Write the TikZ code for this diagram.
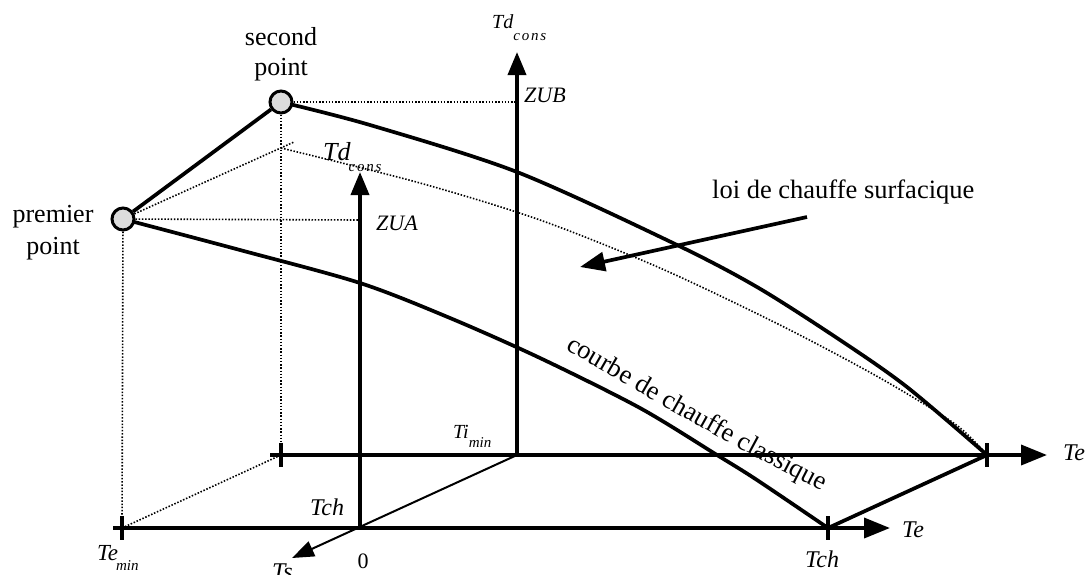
\documentclass[tikz,border=0pt]{standalone}
\usepackage{fontspec}
\setmainfont{Liberation Serif}
\usetikzlibrary{arrows.meta,decorations.text,backgrounds}
\newcommand\subtxt[1]{{\fontsize{15}{15}\selectfont\addfontfeature{LetterSpace=12}#1}}
\newcommand\subplain[1]{{\fontsize{15}{15}\selectfont#1}}
\begin{document}
\begin{tikzpicture}[x=1pt,y=-1pt,
  thickline/.style={line width=3.7pt},
  dotline/.style={line width=1.6pt, dash pattern=on 1.5pt off 1.7pt},
  bigarrow/.style={-{Triangle[length=26pt,width=20pt]}},
  vertarrow/.style={-{Triangle[length=23pt,width=18pt]}},
  ptnode/.style={circle, draw, line width=3pt, fill={rgb,255:red,220;green,220;blue,220}, minimum size=22pt, inner sep=0pt},
  lab/.style={inner sep=0pt, anchor=base west},
  txt/.style={inner sep=0pt, align=center, font=\fontsize{26}{30}\selectfont},
]
\useasboundingbox (0,0) rectangle (1092,574);

% key points
\node[ptnode] (P1) at (123,219) {};
\node[ptnode] (P2) at (281,102) {};
\coordinate (O) at (360,528);
\coordinate (Ob) at (517,455);
\coordinate (FA0) at (113,528);
\coordinate (FA1) at (890,528);
\coordinate (BA0) at (270,455);
\coordinate (BA1) at (1047,455);
\coordinate (Y1) at (360,172);
\coordinate (Y2) at (517,52);
\coordinate (TsE) at (292,558);
\coordinate (Tm) at (122,528);
\coordinate (Bt) at (281,455);
\coordinate (Tc) at (828,528);
\coordinate (Be) at (987,455);
\coordinate (ZA) at (360,220);
\coordinate (ZB) at (517,102);
\coordinate (Dq) at (281,148);
\coordinate (Dp) at (294,142);
\coordinate (La) at (807,217);
\coordinate (Lb) at (580,267);
\coordinate (cs) at (565,349);
\coordinate (ce) at (835,498);

\begin{pgfonlayer}{background}
% dotted construction lines
\draw[dotline] (P1) -- (Dp);
\draw[dotline] (P1) -- (ZA);
\draw[dotline] (P2) -- (ZB);
\draw[dotline] (P1) -- (Tm);
\draw[dotline] (P2) -- (Bt);
\draw[dotline] (Tm) -- (Bt);
\draw[dotline] plot[smooth] coordinates {(Dq) (420,183) (540,220) (660,268) (780,325) (880,378) (955,424) (Be)};
% axes
\draw[thickline, bigarrow] (FA0) -- (FA1);
\draw[thickline, bigarrow] (BA0) -- (BA1);
\draw[thickline, vertarrow] (O) -- (Y1);
\draw[thickline, vertarrow] (Ob) -- (Y2);
\draw[line width=2pt, -{Triangle[length=22pt,width=16pt]}] (Ob) -- (TsE);
% ticks
\draw[thickline] (Tm) ++(0,-12) -- ++(0,24);
\draw[thickline] (Bt) ++(0,-12) -- ++(0,24);
\draw[thickline] (Tc) ++(0,-12) -- ++(0,24);
\draw[thickline] (Be) ++(0,-12) -- ++(0,24);
% curves
\draw[thickline] (P1) -- (P2);
\draw[thickline] plot[smooth] coordinates {(P2) (370,125) (517,172) (673,243) (757,287) (840,340) (907,387) (Be)};
\draw[thickline] plot[smooth] coordinates {(P1) (240,250) (360,283) (450,318) (540,358) (640,408) (717,455) (757,480) (Tc)};
\draw[thickline] (Tc) -- (Be);
\draw[thickline, -{Triangle[length=25pt,width=19pt]}] (La) -- (Lb);
\end{pgfonlayer}

% texts
\node[txt] (lsecond) at (281,54) {second\\point};
\node[txt, font=\fontsize{26}{32}\selectfont] (lpremier) at (53,233) {premier\\point};
\node[lab, font=\fontsize{26.5}{30}\selectfont] (lloi) at (712,198) {loi de chauffe surfacique};
\path[decorate, decoration={text along path, text align=left,
  text={|\fontsize{26.5}{30}\selectfont|courbe de chauffe classique}}] (cs) .. controls (650,398) and (720,440) .. (ce);

\node[lab, font=\fontsize{20}{24}\selectfont\itshape] (ltdb) at (492,28) {Td\raisebox{-12pt}{\subtxt{cons}}};
\node[lab, font=\fontsize{26}{30}\selectfont\itshape] (ltda) at (323,160) {Td\kern-2pt\raisebox{-11pt}{\subtxt{cons}}};
\node[lab, font=\fontsize{22}{24}\selectfont\itshape] (lzub) at (524,102) {ZUB};
\node[lab, font=\fontsize{22}{24}\selectfont\itshape] (lzua) at (376,230) {ZUA};
\node[lab, font=\fontsize{20}{24}\selectfont\itshape] (ltimin) at (453,438) {Ti\raisebox{-9pt}{\subplain{min}}};
\node[lab, font=\fontsize{24}{28}\selectfont\itshape] (ltch) at (310,515) {Tch};
\node[lab, font=\fontsize{23}{28}\selectfont\itshape] (ltemin) at (97,560) {Te\kern-2pt\raisebox{-10pt}{\subplain{min}}};
\node[lab, font=\fontsize{24}{28}\selectfont\itshape] (lteb) at (1063,460) {Te};
\node[lab, font=\fontsize{24}{28}\selectfont\itshape] (ltef) at (902,537) {Te};
\node[lab, font=\fontsize{24}{28}\selectfont\itshape] (ltch2) at (805,567) {Tch};
\node[lab, font=\fontsize{24}{28}\selectfont\itshape] (lts) at (272,579) {Ts};
\node[inner sep=0pt, anchor=base, font=\fontsize{22}{26}\selectfont] (lzero) at (363,568) {0};
\end{tikzpicture}
\end{document}
